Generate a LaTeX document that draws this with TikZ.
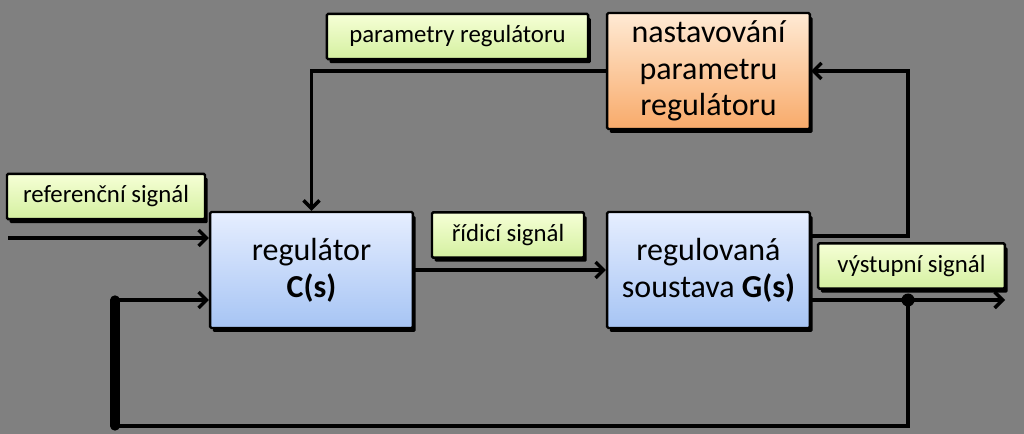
\documentclass[tikz,border=0pt]{standalone}
\usepackage{fontspec}
\setmainfont{Carlito}
\usetikzlibrary{arrows.meta,shadows}

\definecolor{bg}{RGB}{128,128,128}
\definecolor{lblTop}{RGB}{246,255,214}
\definecolor{lblBot}{RGB}{212,240,160}
\definecolor{blkTop}{RGB}{230,238,255}
\definecolor{blkBot}{RGB}{166,196,244}
\definecolor{orgTop}{RGB}{255,234,212}
\definecolor{orgBot}{RGB}{248,170,106}

\tikzset{
  box/.style={draw=black, line width=1.8pt, rounded corners=1pt, inner sep=0pt,
    drop shadow={shadow xshift=2pt, shadow yshift=-3pt, fill=black, opacity=1}},
  lbl/.style={box, top color=lblTop, bottom color=lblBot,
    font=\fontsize{18.6}{21}\selectfont, minimum height=34pt},
  blk/.style={box, align=center, minimum width=152pt, minimum height=87pt,
    font=\fontsize{24}{27.5}\selectfont},
  wire/.style={line width=2.6pt},
  sig/.style={wire, -{Straight Barb[length=6pt,width=12pt]}}
}

\begin{document}
\begin{tikzpicture}[x=0.75pt, y=-0.75pt]
\useasboundingbox (0,0) rectangle (1024,434);
\fill[bg] (0,0) rectangle (1024,434);

% blocks
\node[blk, top color=blkTop, bottom color=blkBot] (reg) at (311.5,270) {regulátor\\\textbf{C(s)}};
\node[blk, top color=blkTop, bottom color=blkBot] (plant) at (708.5,270) {regulovaná\\soustava \textbf{G(s)}};
\node[blk, top color=orgTop, bottom color=orgBot] (tune) at (708.5,71) {nastavování\\parametru\\regulátoru};

% signal labels
\node[lbl, minimum width=148.5pt] (refLbl) at (106,196.5) {referenční signál};
\node[lbl, minimum width=196pt] (parLbl) at (457.5,36.5) {parametry regulátoru};
\node[lbl, minimum width=114pt] (ctlLbl) at (508,235) {řídicí signál};
\node[lbl, minimum width=140pt] (outLbl) at (911.5,266) {výstupní signál};

% helper points
\coordinate (in) at (8,238);
\coordinate (out) at (1005,300);
\coordinate (tap) at (908,300);
\coordinate (up) at (908,236);
\coordinate (fbL) at (115,300);
\coordinate (fbB) at (115,426);

% connectors
\draw[sig] (in) -- (in -| reg.west);
\draw[sig] (reg.east) -- (plant.west);
\draw[sig] (out -| plant.east) -- (out);
\draw[sig] (tune.west) -| (reg.north);
\draw[sig] (up -| plant.east) -- (up) |- (tune.east);
\draw[sig] (tap) |- (fbB) -- (fbL) -- (fbL -| reg.west);
\draw[line width=7pt, line cap=round] (fbL) -- (fbB);
\fill (tap) circle (6.5);
\end{tikzpicture}
\end{document}
